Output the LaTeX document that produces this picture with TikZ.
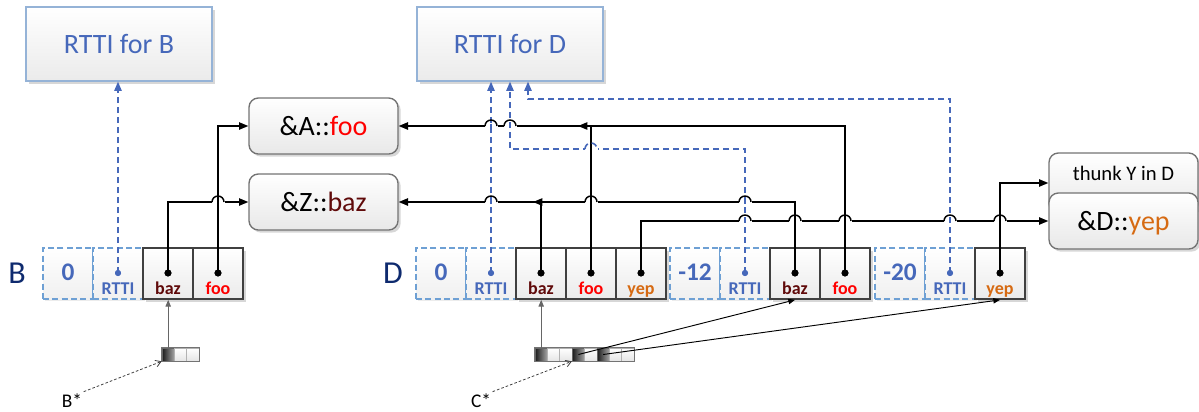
\documentclass[tikz,border=0pt]{standalone}
\usepackage{fontspec}
\setmainfont{Carlito}
\usetikzlibrary{arrows.meta,shadows,calc}

\newlength\px
\setlength\px{0.75pt}

\definecolor{rttiblue}{RGB}{70,104,186}
\definecolor{rttiborder}{RGB}{149,179,215}
\definecolor{navy}{RGB}{14,42,110}
\definecolor{dashblue}{RGB}{110,160,212}
\definecolor{bazred}{RGB}{96,10,10}
\definecolor{foored}{RGB}{255,0,0}
\definecolor{yeporange}{RGB}{214,106,18}

\tikzset{
  softshadow/.style={drop shadow={shadow xshift=2pt,shadow yshift=-2pt,fill=black!35,opacity=.45}},
  rttibox/.style={draw=rttiborder, line width=0.9pt, top color=white, bottom color=black!8,
    minimum width=186*\px, minimum height=74*\px, inner sep=0pt, softshadow,
    font=\fontsize{21}{25}\selectfont, text=rttiblue, text height=13.5pt, text depth=0pt},
  fnbox/.style={draw=black!55, line width=1pt, rounded corners=7pt, top color=white, bottom color=black!9,
    minimum width=149*\px, minimum height=56*\px, inner sep=0pt, softshadow,
    font=\fontsize{21}{25}\selectfont, text height=13.5pt, text depth=0pt},
  cellsolid/.style={draw=black!75, line width=1.3pt, top color=white, bottom color=black!8,
    minimum width=50*\px, minimum height=51*\px, inner sep=0pt, softshadow},
  celldash/.style={draw=dashblue, line width=1.1pt, dash pattern=on 4.5pt off 2.5pt,
    top color=white, bottom color=black!6, minimum width=50*\px, minimum height=51*\px, inner sep=0pt,
    drop shadow={shadow xshift=1.5pt,shadow yshift=-1.5pt,fill=black!25,opacity=.3}},
  ptrcell/.style={draw=black!30, line width=0.5pt, top color=white, bottom color=black!10,
    minimum width=12.4*\px, minimum height=13*\px, inner sep=0pt},
  ptrdark/.style={ptrcell, draw=black!60, left color=black!90, right color=black!35},
  ptrframe/.style={draw=black!55, line width=0.6pt},
  rowlbl/.style={font=\fontsize{24}{28}\selectfont, text=navy, inner sep=0pt},
  numtxt/.style={font=\bfseries\fontsize{19}{22}\selectfont, text=rttiblue, inner sep=0pt, anchor=base},
  smtxt/.style={font=\bfseries\fontsize{13.5}{16}\selectfont, inner sep=0pt, anchor=base},
  thunktxt/.style={font=\fontsize{15.5}{18}\selectfont, inner sep=0pt, anchor=base},
  startxt/.style={font=\fontsize{14.5}{17}\selectfont, inner sep=1pt, anchor=base},
  kdot/.style={circle, fill=black, inner sep=0pt, minimum size=5.2pt},
  bdot/.style={circle, fill=rttiblue, inner sep=0pt, minimum size=4.5pt},
  kline/.style={draw=black, line width=1.1pt},
  bline/.style={draw=rttiblue, line width=1.2pt, dash pattern=on 4.5pt off 3pt},
  karr/.style={kline, -{Triangle[length=7pt,width=5.5pt]}},
  barr/.style={bline, -{Triangle[length=7pt,width=5.5pt]}},
  gptr/.style={draw=black!60, line width=0.7pt, -{Triangle[length=5pt,width=4pt]}},
  kptr/.style={draw=black, line width=0.7pt, -{Triangle[length=5pt,width=4pt]}},
  starptr/.style={draw=black!75, line width=0.6pt, dash pattern=on 2pt off 1.5pt,
    -{Straight Barb[length=4pt,width=5pt]}},
}

% a line hopping over a crossing one: #1 style of the crossed line,
% #2 style of the hopping line, #3 crossing point
\newcommand\hop[3]{%
  \begin{scope}[shift={(#3)}]
    \fill[white] (-6.5,-1.7) rectangle (6.5,1.7);
    \draw[#1] (0,-2.4) -- (0,2.4);
    \draw[#2] (-6,0) arc[start angle=180,end angle=360,radius=6];
  \end{scope}}

\begin{document}
\begin{tikzpicture}[x=0.75pt,y=-0.75pt]
\useasboundingbox (0,0) rectangle (1199,411);

% RTTI records
\node[rttibox] (rttiB) at (119,44) {RTTI for B};
\node[rttibox] (rttiD) at (510,44) {RTTI for D};

% function entries
\node[fnbox] (afoo) at (323.5,126) {\&A::\textcolor{foored}{foo}};
\node[fnbox] (zbaz) at (323.5,202) {\&Z::\textcolor{bazred}{baz}};
\node[fnbox, minimum height=60*\px] (thunk) at (1123.5,183) {};
\node[thunktxt] (thunkt) at (1123.5,180) {thunk Y in D};
\node[fnbox] (dyep) at (1123.5,221) {\&D::\textcolor{yeporange}{yep}};

% row labels
\node[rowlbl] (labB) at (17,273) {B};
\node[rowlbl] (labD) at (393,273) {D};

% vtable of B
\foreach \n/\x/\s in {0/68/celldash,1/118/celldash,2/168/cellsolid,3/218/cellsolid}
  \node[\s] (bC\n) at (\x,273.5) {};

% vtable of D
\foreach \n/\x/\s in {0/441/celldash,1/491/celldash,2/541/cellsolid,3/591/cellsolid,4/641/cellsolid,
                      5/695/celldash,6/745/celldash,7/795/cellsolid,8/845/cellsolid,
                      9/900/celldash,10/950/celldash,11/1000/cellsolid}
  \node[\s] (dC\n) at (\x,273.5) {};

% pointer objects
\node[ptrdark] (pB0) at (168.2,354.5) {};
\node[ptrcell] (pB1) at (180.6,354.5) {};
\node[ptrcell] (pB2) at (193.0,354.5) {};
\draw[ptrframe] (pB0.north west) rectangle (pB2.south east);
\foreach \n/\x/\s in {0/541.2/ptrdark,1/553.6/ptrcell,2/566.0/ptrcell,3/578.4/ptrdark,
                      4/590.8/ptrcell,5/603.2/ptrdark,6/615.6/ptrcell,7/628.0/ptrcell}
  \node[\s] (pD\n) at (\x,354.5) {};
\draw[ptrframe] (pD0.north west) rectangle (pD7.south east);

% slot dots
\node[bdot] (bD1) at (118,273) {};
\node[kdot] (bD2) at (168,273) {};
\node[kdot] (bD3) at (218,273) {};
\foreach \n/\x in {1/491,6/745,10/950} \node[bdot] (dD\n) at (\x,273) {};
\foreach \n/\x in {2/541,3/591,4/641,7/795,8/845,11/1000} \node[kdot] (dD\n) at (\x,273) {};

% bends of the connectors
\coordinate (j2) at (510,149);
\coordinate (j3) at (528,99);
\coordinate (jz) at (533,202);
\coordinate (ja) at (578,126);

% RTTI links
\draw[barr] (bD1.center) -- (bD1.center |- rttiB.south);
\draw[barr] (dD1.center) -- (dD1.center |- rttiD.south);
\draw[barr] (dD6.center) |- (j2) -- (j2 |- rttiD.south);
\draw[barr] (dD10.center) |- (j3) -- (j3 |- rttiD.south);

% virtual function links
\draw[karr] (bD2.center) |- (zbaz.west);
\draw[karr] (bD3.center) |- (afoo.west);
\draw[karr] (dD2.center) |- (zbaz.east);
\draw[karr] (dD3.center) |- (afoo.east);
\draw[karr] (dD4.center) |- (dyep.west);
\draw[karr] (dD7.center) |- (jz);
\draw[karr] (dD8.center) |- (ja);
\draw[karr] (dD11.center) |- (thunk.west);

% line hops
\hop{kline}{kline}{bD3 |- zbaz.west}
\hop{bline}{kline}{dD1 |- afoo.east}
\hop{bline}{kline}{j2 |- afoo.east}
\hop{bline}{kline}{dD1 |- zbaz.east}
\hop{kline}{kline}{dD3 |- zbaz.east}
\hop{bline}{kline}{dD6 |- zbaz.east}
\hop{kline}{bline}{dD3 |- j2}
\hop{bline}{kline}{dD6 |- dyep.west}
\hop{kline}{kline}{dD7 |- dyep.west}
\hop{kline}{kline}{dD8 |- dyep.west}
\hop{bline}{kline}{dD10 |- dyep.west}
\hop{kline}{kline}{dD11 |- dyep.west}

% redraw dots above the lines
\node[bdot] at (bD1) {};
\foreach \n in {2,3} \node[kdot] at (bD\n) {};
\foreach \n in {1,6,10} \node[bdot] at (dD\n) {};
\foreach \n in {2,3,4,7,8,11} \node[kdot] at (dD\n) {};

% slot texts of B
\node[numtxt] (bT0) at (68,280) {0};
\node[smtxt, text=rttiblue] (bT1) at (118,294) {RTTI};
\node[smtxt, text=bazred] (bT2) at (168,294) {baz};
\node[smtxt, text=foored] (bT3) at (218,294) {foo};

% slot texts of D
\node[numtxt] (dT0) at (441,280) {0};
\node[smtxt, text=rttiblue] (dT1) at (491,294) {RTTI};
\node[smtxt, text=bazred] (dT2) at (541,294) {baz};
\node[smtxt, text=foored] (dT3) at (591,294) {foo};
\node[smtxt, text=yeporange] (dT4) at (641,294) {yep};
\node[numtxt] (dT5) at (695,280) {-12};
\node[smtxt, text=rttiblue] (dT6) at (745,294) {RTTI};
\node[smtxt, text=bazred] (dT7) at (795,294) {baz};
\node[smtxt, text=foored] (dT8) at (845,294) {foo};
\node[numtxt] (dT9) at (900,280) {-20};
\node[smtxt, text=rttiblue] (dT10) at (950,294) {RTTI};
\node[smtxt, text=yeporange] (dT11) at (1000,294) {yep};

% pointers into the vtables
\draw[gptr] (pB0.north) -- (pB0.north |- bC2.south);
\draw[gptr] (pD0.north) -- (pD0.north |- dC2.south);
\draw[kptr] (pD3.center) -- (dC7.south);
\draw[kptr] (pD5.center) -- (dC11.south);

% B* and C*
\node[startxt] (bstar) at (72,407) {B*};
\node[startxt] (cstar) at (481,407) {C*};
\draw[starptr] (bstar.north east) -- (pB0.south west);
\draw[starptr] (cstar.north east) -- (pD3.south west);
\end{tikzpicture}
\end{document}
